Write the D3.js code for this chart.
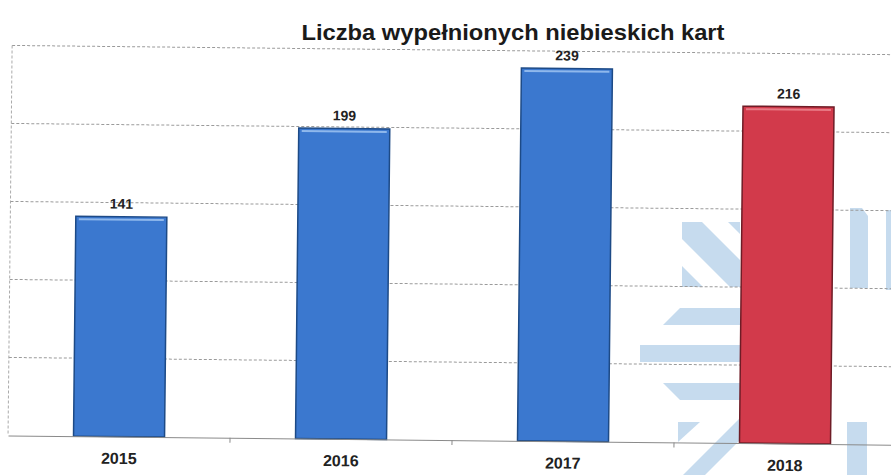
<!DOCTYPE html>
<html>
<head>
<meta charset="utf-8">
<script src="https://cdn.jsdelivr.net/npm/d3@7"></script>
<style>
  body { margin: 0; background: #fff; }
  svg { display: block; font-family: 'Liberation Sans', Arial, sans-serif; }
</style>
</head>
<body>
<div id="wrapper"></div>
<script>
const years = ['2015', '2016', '2017', '2018']
const counts = [141, 199, 239, 216]
const barColors = ['#3b78cf', '#3b78cf', '#3b78cf', '#d23a4b']
const barStrokes = ['#1d4a86', '#1d4a86', '#1d4a86', '#6e1c26']
const gridValues = [0, 50, 100, 150, 200, 250]
const title = 'Liczba wypełnionych niebieskich kart'

const dimensions = {
  width: 891,
  height: 475,
  margin: { top: 50, right: -7, bottom: 35, left: 10 },
}
dimensions.boundedWidth = dimensions.width - dimensions.margin.left - dimensions.margin.right
dimensions.boundedHeight = dimensions.height - dimensions.margin.top - dimensions.margin.bottom

const svg = d3.select('#wrapper').append('svg')
  .attr('width', dimensions.width)
  .attr('height', dimensions.height)

// watermark logo printed behind the chart
const wm = svg.append('g').attr('fill', '#c6dbee')
const wmShapes = [
  '682,222 702,222 740,260 740,287 730,287 682,239',
  '682,266 682,287 703,287',
  '728,222 740,222 740,234',
  '680,308 740,308 740,325 663,325',
  '640,345 740,345 740,362 640,362',
  '663,383 740,383 740,400 680,400',
  '678,422 700,422 678,442',
  '683,475 705,475 740,440 740,418',
  '850,208 862,208 868,216 868,288 850,288',
  '847,422 867,422 867,475 847,475',
  '886,210 891,210 891,290 886,290',
]
wm.selectAll('polygon').data(wmShapes).join('polygon').attr('points', (d) => d)

// the scan is slightly tilted
const page = svg.append('g').attr('transform', 'rotate(0.6 445 250)')

const bounds = page.append('g')
  .attr('transform', `translate(${dimensions.margin.left},${dimensions.margin.top})`)

const xScale = d3.scaleBand()
  .domain(years)
  .range([0, dimensions.boundedWidth])
  .paddingInner(0.59)
  .paddingOuter(0.295)

const yScale = d3.scaleLinear()
  .domain([0, 250])
  .range([dimensions.boundedHeight, 0])

// gridlines
bounds.append('g')
  .selectAll('line')
  .data(gridValues.slice(1))
  .join('line')
  .attr('x1', 0)
  .attr('x2', dimensions.boundedWidth)
  .attr('y1', (d) => yScale(d))
  .attr('y2', (d) => yScale(d))
  .attr('stroke', '#9a9a9a')
  .attr('stroke-width', 1)
  .attr('stroke-dasharray', '3,2')

bounds.append('line')
  .attr('x1', 0).attr('x2', 0)
  .attr('y1', 0).attr('y2', dimensions.boundedHeight)
  .attr('stroke', '#aaa')
  .attr('stroke-dasharray', '3,2')

// bars
const bars = bounds.append('g')
  .selectAll('g')
  .data(years)
  .join('g')

bars.append('rect')
  .attr('x', (d) => xScale(d))
  .attr('y', (d, i) => yScale(counts[i]))
  .attr('width', xScale.bandwidth())
  .attr('height', (d, i) => dimensions.boundedHeight - yScale(counts[i]))
  .attr('fill', (d, i) => barColors[i])
  .attr('stroke', (d, i) => barStrokes[i])
  .attr('stroke-width', 1.5)

// light bevel along the top of each bar
bars.append('line')
  .attr('x1', (d) => xScale(d) + 3)
  .attr('x2', (d) => xScale(d) + xScale.bandwidth() - 3)
  .attr('y1', (d, i) => yScale(counts[i]) + 3)
  .attr('y2', (d, i) => yScale(counts[i]) + 3)
  .attr('stroke', (d, i) => (i === 3 ? '#e87a85' : '#8fb8ec'))
  .attr('stroke-width', 2)

// value labels
bars.append('text')
  .attr('x', (d) => xScale(d) + xScale.bandwidth() / 2)
  .attr('y', (d, i) => yScale(counts[i]) - 8)
  .attr('text-anchor', 'middle')
  .attr('font-size', 14)
  .attr('font-weight', 'bold')
  .attr('fill', '#222')
  .text((d, i) => counts[i])

// x axis
const xAxisGenerator = d3.axisBottom(xScale).tickSize(0).tickPadding(16)
const xAxis = bounds.append('g')
  .attr('transform', `translate(0,${dimensions.boundedHeight})`)
  .call(xAxisGenerator)
xAxis.select('.domain').attr('stroke', '#8a8a8a')
xAxis.selectAll('text')
  .attr('font-size', 16)
  .attr('font-weight', 'bold')
  .attr('fill', '#222')
  .attr('font-family', 'Liberation Sans, Arial, sans-serif')

// tick marks between categories
xAxis.append('g')
  .selectAll('line')
  .data(years.slice(1))
  .join('line')
  .attr('x1', (d) => xScale(d) - xScale.step() * xScale.paddingInner() / 2)
  .attr('x2', (d) => xScale(d) - xScale.step() * xScale.paddingInner() / 2)
  .attr('y1', 0)
  .attr('y2', 5)
  .attr('stroke', '#8a8a8a')

// title
svg.append('text')
  .attr('x', 513)
  .attr('y', 40)
  .attr('text-anchor', 'middle')
  .attr('font-size', 22)
  .attr('font-weight', 'bold')
  .attr('fill', '#1a1a1a')
  .attr('textLength', 423)
  .attr('lengthAdjust', 'spacingAndGlyphs')
  .text(title)
</script>
</body>
</html>
